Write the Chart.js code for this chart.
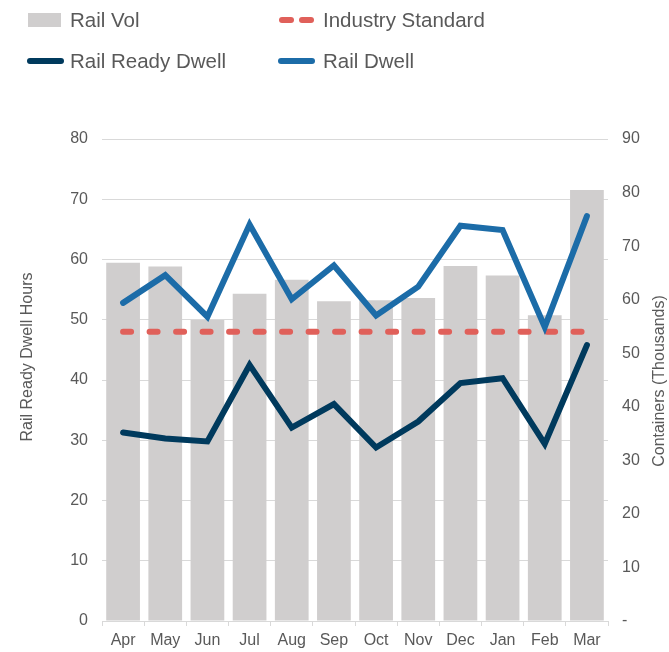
<!DOCTYPE html>
<html>
<head>
<meta charset="utf-8">
<script src="https://cdn.jsdelivr.net/npm/chart.js@4/dist/chart.umd.min.js"></script>
<style>
  html, body { margin: 0; padding: 0; background: #ffffff; }
  #wrap { position: relative; width: 669px; height: 652px; overflow: hidden; }
  #chart { position: absolute; left: 0; top: 0; }
  .lg { position: absolute; height: 30px; display: flex; align-items: center; }
  .lg span.t { font: 20.5px "Liberation Sans", Arial, sans-serif; line-height: 1; color: #595959; white-space: nowrap; }
</style>
</head>
<body>
<div id="wrap">
  <canvas id="chart" width="669" height="652"></canvas>
  <div id="legend"></div>
</div>
<script>
// ---- Data ----
const months = ['Apr','May','Jun','Jul','Aug','Sep','Oct','Nov','Dec','Jan','Feb','Mar'];
const railVol = [66.9, 66.2, 56.2, 61.1, 63.7, 59.7, 59.9, 60.3, 66.3, 64.5, 57.1, 80.5];          // thousands of containers (right axis)
const industryStandard = [48, 48, 48, 48, 48, 48, 48, 48, 48, 48, 48, 48];                       // hours (left axis)
const railReadyDwell = [31.3, 30.3, 29.8, 42.5, 32.1, 36.0, 28.8, 33.1, 39.5, 40.3, 29.4, 45.8]; // hours
const railDwell = [52.8, 57.4, 50.5, 65.8, 53.4, 59.0, 50.7, 55.5, 65.6, 64.9, 48.8, 67.2];      // hours
const leftTicks = [0, 10, 20, 30, 40, 50, 60, 70, 80];
const rightTicks = ['-', '10', '20', '30', '40', '50', '60', '70', '80', '90'];
const leftTitle = 'Rail Ready Dwell Hours';
const rightTitle = 'Containers (Thousands)';

const TEXT = '#595959';
const GRID = '#d9d9d9';
Chart.defaults.font.family = '"Liberation Sans", Arial, sans-serif';
Chart.defaults.color = TEXT;

const axisTitles = {
  id: 'axisTitles',
  afterDraw(chart) {
    const ctx = chart.ctx;
    ctx.save();
    ctx.fillStyle = TEXT;
    ctx.font = '16px "Liberation Sans", Arial, sans-serif';
    ctx.textAlign = 'center';
    ctx.textBaseline = 'middle';
    ctx.translate(28, 357);
    ctx.rotate(-Math.PI / 2);
    ctx.fillText(leftTitle, 0, 0);
    ctx.restore();
    ctx.save();
    ctx.fillStyle = TEXT;
    ctx.font = '16px "Liberation Sans", Arial, sans-serif';
    ctx.textAlign = 'center';
    ctx.textBaseline = 'middle';
    ctx.translate(660, 381);
    ctx.rotate(-Math.PI / 2);
    ctx.fillText(rightTitle, 0, 0);
    ctx.restore();
  }
};

const chart = new Chart(document.getElementById('chart'), {
  type: 'bar',
  data: {
    labels: months,
    datasets: [
      { type: 'bar', label: 'Rail Vol', data: railVol, yAxisID: 'y1', backgroundColor: '#d0cece',
        barPercentage: 0.8, categoryPercentage: 1.0, order: 10 },
      { type: 'line', label: 'Industry Standard', data: industryStandard, yAxisID: 'y', borderColor: '#e0605a',
        borderWidth: 6, borderDash: [8, 18.5], borderCapStyle: 'round', pointRadius: 0, tension: 0, order: 3 },
      { type: 'line', label: 'Rail Ready Dwell', data: railReadyDwell, yAxisID: 'y', borderColor: '#003a5d',
        borderWidth: 6, borderCapStyle: 'round', pointRadius: 0, tension: 0, order: 2 },
      { type: 'line', label: 'Rail Dwell', data: railDwell, yAxisID: 'y', borderColor: '#1c6ca8',
        borderWidth: 6, borderCapStyle: 'round', pointRadius: 0, tension: 0, order: 1 }
    ]
  },
  options: {
    responsive: false,
    animation: false,
    layout: { padding: { top: 139, left: 0, right: 0, bottom: 0 } },
    plugins: { legend: { display: false }, tooltip: { enabled: false } },
    scales: {
      x: {
        grid: { display: true, drawOnChartArea: false, drawTicks: true, tickLength: 5, color: GRID, offset: true },
        border: { display: true, color: GRID },
        ticks: { font: { size: 16 }, color: TEXT, padding: 5, maxRotation: 0 },
        afterFit(s) { s.height = 31; }
      },
      y: {
        position: 'left', min: 0, max: 80,
        afterBuildTicks(s) { s.ticks = leftTicks.map(v => ({ value: v })); },
        grid: { color: GRID, drawTicks: false, lineWidth: 1 },
        border: { display: false },
        ticks: { font: { size: 16 }, color: TEXT, padding: 14 },
        afterFit(s) { s.width = 102; }
      },
      y1: {
        position: 'right', min: 0, max: 90,
        afterBuildTicks(s) { s.ticks = rightTicks.map((t, i) => ({ value: i * 10 })); },
        grid: { drawOnChartArea: false, drawTicks: false },
        border: { display: false },
        ticks: { font: { size: 16 }, color: TEXT, padding: 14, callback: (v, i) => rightTicks[i] },
        afterFit(s) { s.width = 61; }
      }
    }
  },
  plugins: [axisTitles]
});

// HTML legend built from the chart's datasets (2 columns)
const colX = [27, 278];
const textX = [70, 323];
const rowY = [20, 61];
const legendEl = document.getElementById('legend');
chart.data.datasets.forEach((ds, i) => {
  const col = i % 2, row = Math.floor(i / 2);
  const item = document.createElement('div');
  item.className = 'lg';
  item.style.left = colX[col] + 'px';
  item.style.top = (rowY[row] - 15) + 'px';
  const mk = document.createElement('div');
  mk.style.position = 'relative';
  mk.style.width = (textX[col] - colX[col]) + 'px';
  mk.style.height = '30px';
  if (ds.type === 'bar') {
    mk.innerHTML = '<div style="position:absolute;left:1px;top:8px;width:33px;height:14px;background:' + ds.backgroundColor + '"></div>';
  } else if (ds.borderDash) {
    mk.innerHTML = '<div style="position:absolute;left:1px;top:12px;width:15px;height:6px;border-radius:3px;background:' + ds.borderColor + '"></div>' +
                   '<div style="position:absolute;left:21px;top:12px;width:15px;height:6px;border-radius:3px;background:' + ds.borderColor + '"></div>';
  } else {
    mk.innerHTML = '<div style="position:absolute;left:0;top:12px;width:37px;height:6px;border-radius:3px;background:' + ds.borderColor + '"></div>';
  }
  const t = document.createElement('span');
  t.className = 't';
  t.textContent = ds.label;
  item.appendChild(mk);
  item.appendChild(t);
  legendEl.appendChild(item);
});
</script>
</body>
</html>
